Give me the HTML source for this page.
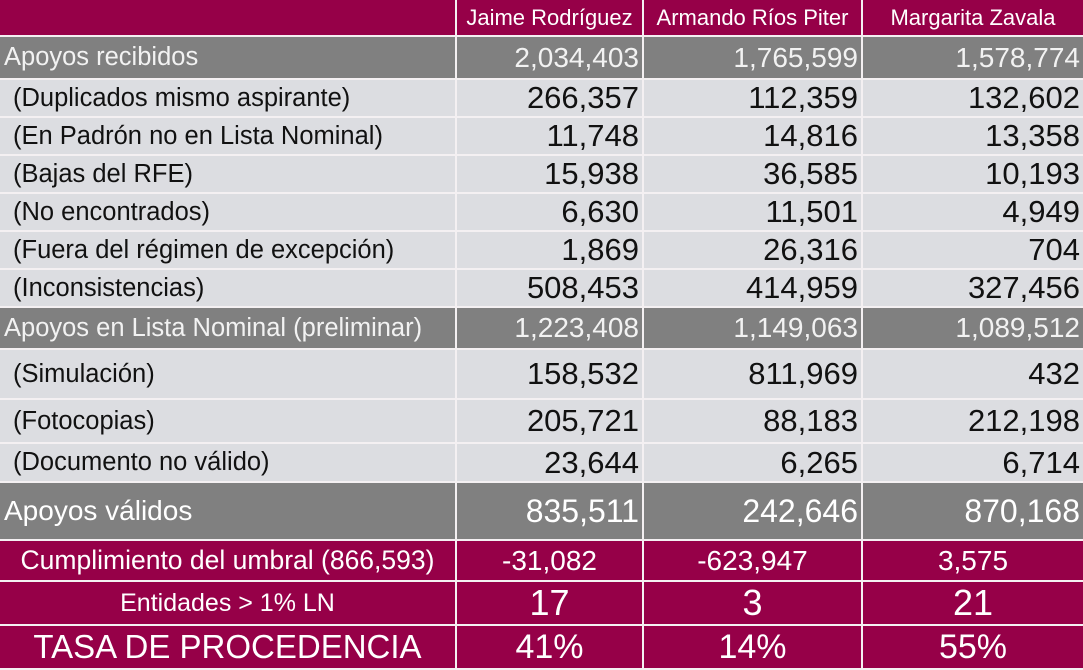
<!DOCTYPE html>
<html><head><meta charset="utf-8"><style>
body{margin:0;width:1083px;height:666px;overflow:hidden;background:#fff;font-family:"Liberation Sans",sans-serif}
.r{position:absolute;left:0;width:1083px;box-sizing:border-box}
.c{position:absolute;top:0;bottom:0;box-sizing:border-box;display:flex;align-items:center;white-space:nowrap;overflow:hidden;border-right:2px solid #f4f0f2;border-bottom:2px solid #f4f0f2}
.c0{left:0;width:457px;padding-left:13px}
.c1{left:457px;width:187px;justify-content:flex-end;padding-right:3px}
.c2{left:644px;width:219px;justify-content:flex-end;padding-right:3px}
.c3{left:863px;width:220px;justify-content:flex-end;padding-right:3px;border-right:none}
.m{background:#960048;color:#fff}
.g{background:#808080;color:#f2f2f2}
.l{background:#dcdde1;color:#111}
.l .c0{font-size:25.5px}
.l .c1,.l .c2,.l .c3{font-size:31px}
.m .c{justify-content:center;padding:0}
</style></head><body>
<div class="r m" style="top:0;height:37px;font-size:22px"><div class="c c0"></div><div class="c c1">Jaime Rodríguez</div><div class="c c2">Armando Ríos Piter</div><div class="c c3">Margarita Zavala</div></div>
<div class="r g" style="top:37px;height:43px;font-size:25.5px"><div class="c c0" style="padding-left:4px">Apoyos recibidos</div><div class="c c1" style="font-size:28px">2,034,403</div><div class="c c2" style="font-size:28px">1,765,599</div><div class="c c3" style="font-size:28px">1,578,774</div></div>
<div class="r l" style="top:80px;height:38px"><div class="c c0">(Duplicados mismo aspirante)</div><div class="c c1">266,357</div><div class="c c2">112,359</div><div class="c c3">132,602</div></div>
<div class="r l" style="top:118px;height:38px"><div class="c c0">(En Padrón no en Lista Nominal)</div><div class="c c1">11,748</div><div class="c c2">14,816</div><div class="c c3">13,358</div></div>
<div class="r l" style="top:156px;height:38px"><div class="c c0">(Bajas del RFE)</div><div class="c c1">15,938</div><div class="c c2">36,585</div><div class="c c3">10,193</div></div>
<div class="r l" style="top:194px;height:38px"><div class="c c0">(No encontrados)</div><div class="c c1">6,630</div><div class="c c2">11,501</div><div class="c c3">4,949</div></div>
<div class="r l" style="top:232px;height:38px"><div class="c c0">(Fuera del régimen de excepción)</div><div class="c c1">1,869</div><div class="c c2">26,316</div><div class="c c3">704</div></div>
<div class="r l" style="top:270px;height:38px"><div class="c c0">(Inconsistencias)</div><div class="c c1">508,453</div><div class="c c2">414,959</div><div class="c c3">327,456</div></div>
<div class="r g" style="top:308px;height:42px;font-size:25.5px"><div class="c c0" style="padding-left:4px">Apoyos en Lista Nominal (preliminar)</div><div class="c c1" style="font-size:28px">1,223,408</div><div class="c c2" style="font-size:28px">1,149,063</div><div class="c c3" style="font-size:28px">1,089,512</div></div>
<div class="r l" style="top:350px;height:50px"><div class="c c0">(Simulación)</div><div class="c c1">158,532</div><div class="c c2">811,969</div><div class="c c3">432</div></div>
<div class="r l" style="top:400px;height:44px"><div class="c c0">(Fotocopias)</div><div class="c c1">205,721</div><div class="c c2">88,183</div><div class="c c3">212,198</div></div>
<div class="r l" style="top:444px;height:39px"><div class="c c0">(Documento no válido)</div><div class="c c1">23,644</div><div class="c c2">6,265</div><div class="c c3">6,714</div></div>
<div class="r g" style="top:483px;height:58px;font-size:28px;color:#fff"><div class="c c0" style="padding-left:4px">Apoyos válidos</div><div class="c c1" style="font-size:32px">835,511</div><div class="c c2" style="font-size:32px">242,646</div><div class="c c3" style="font-size:32px">870,168</div></div>
<div class="r m" style="top:541px;height:41px;font-size:26.5px"><div class="c c0">Cumplimiento del umbral (866,593)</div><div class="c c1" style="font-size:28px">-31,082</div><div class="c c2" style="font-size:28px">-623,947</div><div class="c c3" style="font-size:28px">3,575</div></div>
<div class="r m" style="top:582px;height:44px;font-size:25px"><div class="c c0">Entidades &gt; 1% LN</div><div class="c c1" style="font-size:36px">17</div><div class="c c2" style="font-size:36px">3</div><div class="c c3" style="font-size:36px">21</div></div>
<div class="r m" style="top:626px;height:44px;font-size:33px"><div class="c c0">TASA DE PROCEDENCIA</div><div class="c c1" style="font-size:34px">41%</div><div class="c c2" style="font-size:34px">14%</div><div class="c c3" style="font-size:34px">55%</div></div>
</body></html>
